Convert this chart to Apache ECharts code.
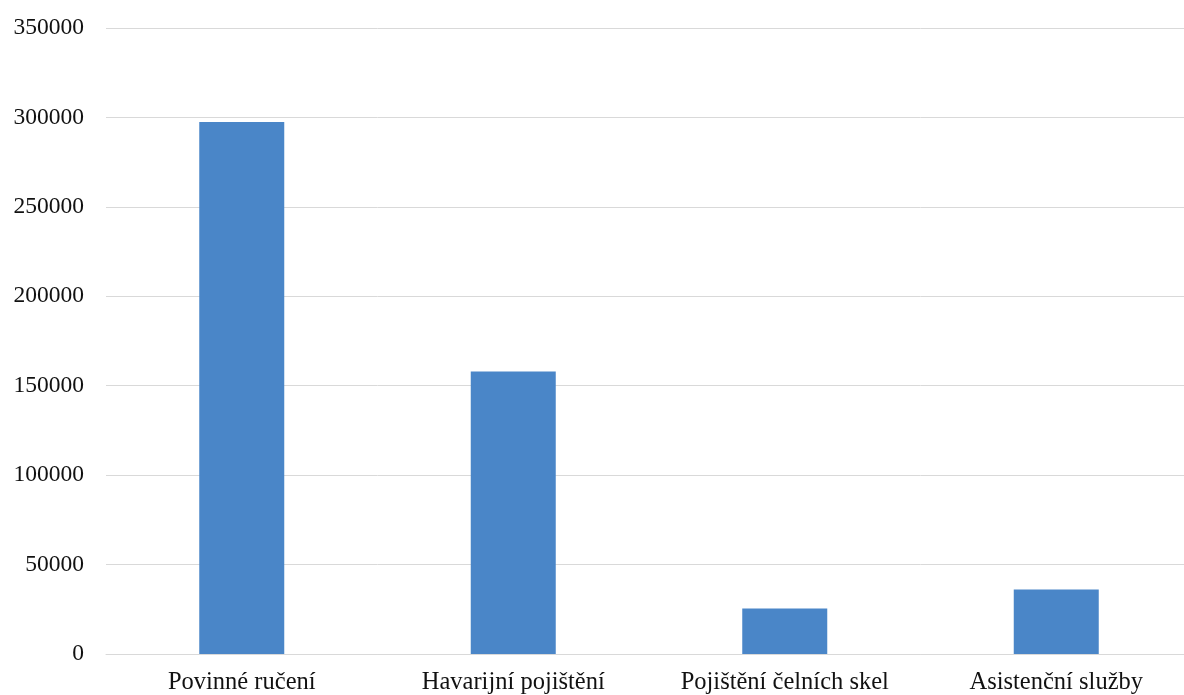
<!DOCTYPE html>
<html>
<head>
<meta charset="utf-8">
<script src="https://cdn.jsdelivr.net/npm/echarts@6/dist/echarts.min.js"></script>
<style>
html,body{margin:0;padding:0;background:#fff;overflow:hidden;width:1184px;height:695px;}
#chart{width:1192px;height:695px;}
</style>
</head>
<body>
<div id="chart"></div>
<script>
const categories = ["Povinné ručení", "Havarijní pojištění", "Pojištění čelních skel", "Asistenční služby"];
const values = [297500, 158000, 25500, 36000];
const yMin = 0;
const yMax = 350000;
const yStep = 50000;

const chart = echarts.init(document.getElementById('chart'), null, {renderer: 'canvas'});
chart.setOption({
  animation: false,
  backgroundColor: '#ffffff',
  grid: {left: 106, right: 0, top: 28, bottom: 41, containLabel: false, outerBoundsMode: 'none'},
  xAxis: {
    type: 'category',
    data: categories,
    axisLine: {show: true, lineStyle: {color: '#d9d9d9', width: 1}},
    axisTick: {show: false},
    axisLabel: {
      color: '#111111',
      fontFamily: '"Liberation Serif", "Times New Roman", serif',
      fontSize: 24.5,
      margin: 16,
      interval: 0
    }
  },
  yAxis: {
    type: 'value',
    min: yMin,
    max: yMax,
    interval: yStep,
    axisLine: {show: false},
    axisTick: {show: false},
    splitLine: {show: true, lineStyle: {color: '#d9d9d9', width: 1}},
    axisLabel: {
      color: '#111111',
      fontFamily: '"Liberation Serif", "Times New Roman", serif',
      fontSize: 23.5,
      margin: 22,
      formatter: function (v) { return String(v); }
    }
  },
  series: [{
    type: 'bar',
    data: values,
    barWidth: 85,
    itemStyle: {color: '#4a86c8'}
  }]
});
</script>
</body>
</html>
